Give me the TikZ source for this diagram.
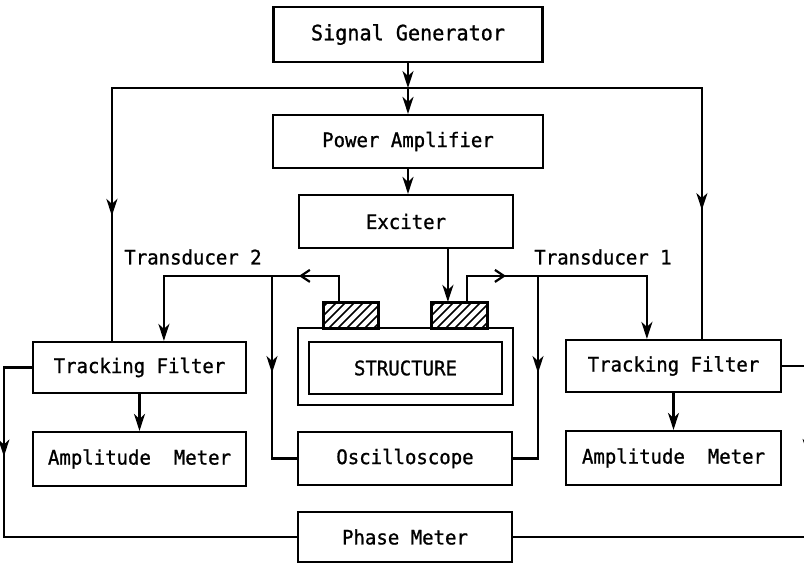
\documentclass[tikz,border=0pt]{standalone}
\usepackage{fontspec}
\setmainfont[FakeStretch=0.95,FakeBold=1]{DejaVu Sans Mono}
\usetikzlibrary{arrows.meta,decorations.markings}
\begin{document}
\begin{tikzpicture}[x=1pt,y=-1pt,line width=2.2pt,
  box/.style={draw,rectangle,inner sep=0pt,font=\fontsize{20}{22}\selectfont},
  lab/.style={inner sep=0pt,font=\fontsize{20}{22}\selectfont},
  tip/.style={-{Stealth[length=17pt,width=11pt,inset=5pt]}},
  midtip/.style={postaction={decorate},decoration={markings,mark=at position #1 with {\arrow{Stealth[length=17pt,width=11pt,inset=5pt]}}}},
  midbarb/.style={postaction={decorate},decoration={markings,mark=at position #1 with {\arrow{Straight Barb[length=9pt,width=12pt]}}}}
]
\path[use as bounding box,clip] (0,0) rectangle (804,564);

% boxes
\node[box,minimum width=269pt,minimum height=55pt,font=\fontsize{21.2}{23}\selectfont] (sg) at (408,34.5) {Signal Generator};
\node[box,minimum width=270pt,minimum height=53pt] (pa) at (408,141.5) {Power Amplifier};
\node[box,minimum width=214pt,minimum height=53pt] (ex) at (406,221.5) {Exciter};
\node[box,minimum width=215pt,minimum height=77pt] (st) at (405.5,366.5) {};
\node[box,minimum width=193pt,minimum height=52pt] (sti) at (405.5,368) {STRUCTURE};
\node[box,minimum width=54pt,minimum height=25pt] (t2) at (351,315.5) {};
\node[box,minimum width=55pt,minimum height=25pt] (t1) at (459.5,315.5) {};
\node[box,minimum width=213pt,minimum height=51pt] (tfL) at (139.5,367.5) {Tracking Filter};
\node[box,minimum width=213pt,minimum height=54pt] (amL) at (139.5,459) {Amplitude\ \ Meter};
\node[box,minimum width=215pt,minimum height=52pt] (tfR) at (673.5,366) {Tracking Filter};
\node[box,minimum width=215pt,minimum height=54pt] (amR) at (673.5,458) {Amplitude\ \ Meter};
\node[box,minimum width=214pt,minimum height=53pt] (osc) at (405,458.5) {Oscilloscope};
\node[box,minimum width=214pt,minimum height=50pt] (pm) at (405,537) {Phase Meter};

\node[lab] (tr2) at (193,257) {Transducer 2};
\node[lab] (tr1) at (603,257) {Transducer 1};

% hatching of the transducers
\foreach \n in {t2,t1}{
  \begin{scope}
    \clip (\n.south west) rectangle (\n.north east);
    \foreach \k in {-40,-31,...,80}
      \draw[line width=1.5pt] ([xshift=\k pt]\n.south west) -- ++(40,-40);
  \end{scope}
  \draw (\n.south west) rectangle (\n.north east);
}

% coordinates
\coordinate (j0) at (408,88);
\coordinate (jL) at (272,277);
\coordinate (jR) at (538,277);

% signal path
\draw[tip] (sg.south) -- (j0);
\draw[tip] (j0) -- (pa.north);
\draw[tip] (pa.south) -- (pa.south |- ex.north);
\draw[midtip=424pt] (j0) -| ([xshift=80pt]tfL.north west);
\draw[midtip=416pt] (j0) -| ([xshift=137pt]tfR.north west);
\draw[tip] ([xshift=150pt]ex.south west) -- ([xshift=17pt]t1.north west);

% transducer outputs
\draw[tip,midbarb=66pt] ([xshift=16pt]t2.north west) -- ++(0,-26) -| ([xshift=132pt]tfL.north west);
\draw[tip,midbarb=65pt] ([xshift=36pt]t1.north west) -- ++(0,-26) -| ([xshift=82pt]tfR.north west);
\draw[midtip=96pt] (jL) |- (osc.west);
\draw[midtip=96pt] (jR) |- (osc.east);

% filters to meters
\draw[tip] (tfL.south) -- (amL.north);
\draw[tip] (tfR.south) -- (amR.north);
\draw[midtip=117pt] (tfL.west) -- ++(-28,0) |- (pm.west);
\draw[midtip=116pt] (tfR.east) -- ++(26,0) |- (pm.east);
\end{tikzpicture}
\end{document}
